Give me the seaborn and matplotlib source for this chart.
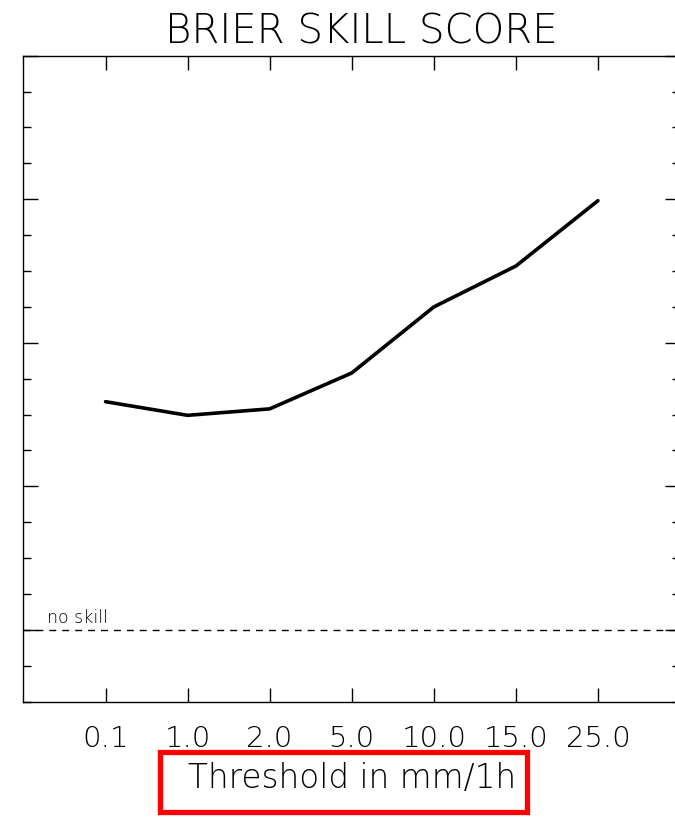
import matplotlib
matplotlib.use('Agg')
import matplotlib.pyplot as plt
import seaborn as sns
from matplotlib.patches import Rectangle
from matplotlib.ticker import MultipleLocator

# thresholds (mm/1h) and Brier skill score
thresholds = ['0.1', '1.0', '2.0', '5.0', '10.0', '15.0', '25.0']
bss = [0.159, 0.1495, 0.154, 0.179, 0.225, 0.2535, 0.299]
no_skill = 0.0

sns.set_style('white')
plt.rcParams['font.family'] = ['DejaVu Sans']
plt.rcParams['text.color'] = 'black'
plt.rcParams['xtick.color'] = 'black'
plt.rcParams['ytick.color'] = 'black'
plt.rcParams['axes.labelcolor'] = 'black'

fig = plt.figure(figsize=(6.75, 8.17), dpi=100)
ax = fig.add_axes([0.0348, 0.1411, 0.9726, 0.7907])

sns.lineplot(x=thresholds, y=bss, sort=False, color='black', lw=2.6, ax=ax)

# no skill reference
ax.axhline(no_skill, color='black', lw=1, ls=(0, (5, 4.3)))
ax.text(-0.71, no_skill + 0.0045, 'no skill', fontsize=12.5, va='baseline',
        ha='left', fontweight='light')

ax.set_xlim(-1, 7)
ax.set_ylim(-0.05, 0.4)
ax.yaxis.set_major_locator(MultipleLocator(0.1))
ax.yaxis.set_minor_locator(MultipleLocator(0.025))
ax.set_yticklabels([])

for s in ax.spines.values():
    s.set_visible(True)
    s.set_color('black')
    s.set_linewidth(1)

ax.tick_params(axis='y', which='major', direction='in', length=11, width=1,
               left=True, right=True, labelleft=False)
ax.tick_params(axis='y', which='minor', direction='in', length=6, width=1,
               left=True, right=True)
ax.tick_params(axis='x', which='major', direction='in', length=10, width=1,
               top=True, bottom=True, labelsize=21, pad=17)
for lab in ax.get_xticklabels():
    lab.set_fontweight('light')

ax.set_xlabel('Threshold in mm/1h', fontsize=23.5, labelpad=6, fontweight='light')
ax.set_ylabel('')
ax.set_title('BRIER SKILL SCORE', fontsize=29, pad=9, x=0.514, fontweight='light')

# red box around the axis label
fig.patches.append(Rectangle((160 / 675, 1 - 812 / 817), 367 / 675, 60 / 817,
                             transform=fig.transFigure, fill=False,
                             edgecolor='red', lw=3.8))

plt.savefig('out.png', dpi=100)
